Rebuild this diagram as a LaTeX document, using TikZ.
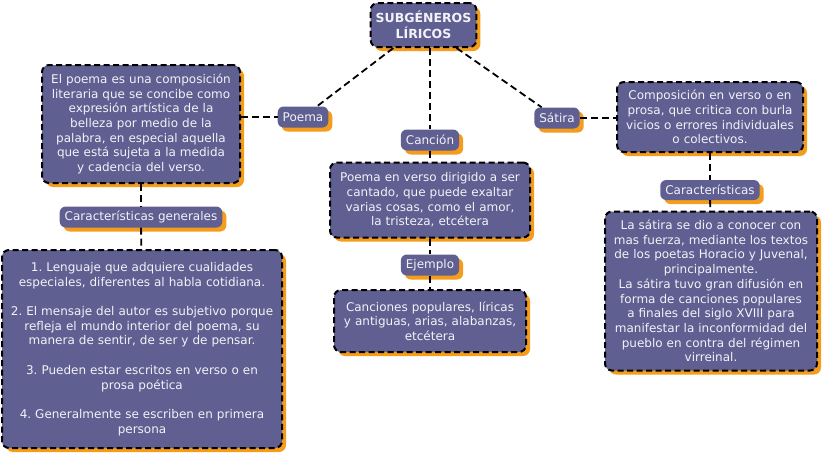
\documentclass[tikz,border=0pt]{standalone}
\usepackage{fontspec}
\setmainfont{DejaVu Sans}
\usetikzlibrary{shadows}
\frenchspacing

\definecolor{cajaazul}{HTML}{5F5F91}
\definecolor{sombra}{HTML}{F49C1C}
\definecolor{letra}{HTML}{F2F2F8}

\tikzset{
  caja/.style={draw=black, dash pattern=on 6pt off 3.5pt, line width=2pt,
    fill=cajaazul, rounded corners=7pt, text=letra, align=center,
    inner sep=5pt, font=\fontsize{12}{14.7}\selectfont,
    drop shadow={shadow xshift=4pt, shadow yshift=-4pt, fill=sombra, opacity=1}},
  etiqueta/.style={fill=cajaazul, rounded corners=6pt, text=letra,
    inner xsep=5pt, minimum height=21pt, font=\fontsize{12}{13}\selectfont,
    drop shadow={shadow xshift=4pt, shadow yshift=-4pt, fill=sombra, opacity=1}},
  enlace/.style={draw=black, dash pattern=on 7pt off 4pt, line width=1.8pt}
}

\begin{document}
\begin{tikzpicture}[x=1pt, y=-1pt]
    \useasboundingbox (0,0) rectangle (824,461);

    % Título
    \node[caja, font=\fontsize{12.5}{15.5}\selectfont\bfseries, minimum width=97pt, minimum height=44pt]
      (titulo) at (423.5,25) {SUBGÉNEROS\\LÍRICOS};

    % Poema
    \node[etiqueta] (poema) at (303,117) {Poema};
    \node[caja, text width=188pt, minimum height=118pt] (poemacaja) at (141,124)
      {El poema es una composición\\literaria que se concibe como\\expresión artística de la\\belleza por medio de la\\palabra, en especial aquella\\que está sujeta a la medida\\y cadencia del verso.};
    \node[etiqueta] (cargen) at (141,217) {Características generales};
    \node[caja, text width=270pt, minimum height=198pt] (poemalista) at (142,349)
      {1. Lenguaje que adquiere cualidades\\especiales, diferentes al habla cotidiana.\\[14.7pt]%
       2. El mensaje del autor es subjetivo porque\\refleja el mundo interior del poema, su\\manera de sentir, de ser y de pensar.\\[14.7pt]%
       3. Pueden estar escritos en verso o en\\prosa poética\\[14.7pt]%
       4. Generalmente se escriben en primera\\persona\\[10pt]};

    % Canción
    \node[etiqueta] (cancion) at (430,140) {Canción};
    \node[caja, text width=190pt, minimum height=75pt] (cancioncaja) at (430,200)
      {Poema en verso dirigido a ser\\cantado, que puede exaltar\\varias cosas, como el amor,\\la tristeza, etcétera};
    \node[etiqueta] (ejemplo) at (430,265) {Ejemplo};
    \node[caja, text width=182pt, minimum height=62pt] (ejemplocaja) at (430,321)
      {Canciones populares, líricas\\y antiguas, arias, alabanzas,\\etcétera};

    % Sátira
    \node[etiqueta] (satira) at (557,118) {Sátira};
    \node[caja, text width=176pt, minimum height=70pt] (satiracaja) at (710,117)
      {Composición en verso o en\\prosa, que critica con burla\\vicios o errores individuales\\o colectivos.};
    \node[etiqueta, minimum height=20pt] (carsat) at (710,190) {Características};
    \node[caja, text width=202pt, minimum height=159pt] (satiralista) at (711,291)
      {La sátira se dio a conocer con\\mas fuerza, mediante los textos\\de los poetas Horacio y Juvenal,\\principalmente.\\La sátira tuvo gran difusión en\\forma de canciones populares\\a finales del siglo XVIII para\\manifestar la inconformidad del\\pueblo en contra del régimen\\virreinal.};

    % Enlaces
    \draw[enlace] (titulo) -- (poema);
    \draw[enlace] (titulo.south -| cancion) -- (cancion);
    \draw[enlace] (titulo) -- (satira);
    \draw[enlace] (poemacaja.east |- poema) -- (poema);
    \draw[enlace] (poemacaja) -- (cargen);
    \draw[enlace] (cargen) -- (poemalista);
    \draw[enlace] (cancion) -- (cancioncaja);
    \draw[enlace] (cancioncaja) -- (ejemplo);
    \draw[enlace] (ejemplo) -- (ejemplocaja);
    \draw[enlace] (satira) -- (satiracaja.west |- satira);
    \draw[enlace] (satiracaja) -- (carsat);
    \draw[enlace] (carsat) -- (satiralista);
\end{tikzpicture}
\end{document}
